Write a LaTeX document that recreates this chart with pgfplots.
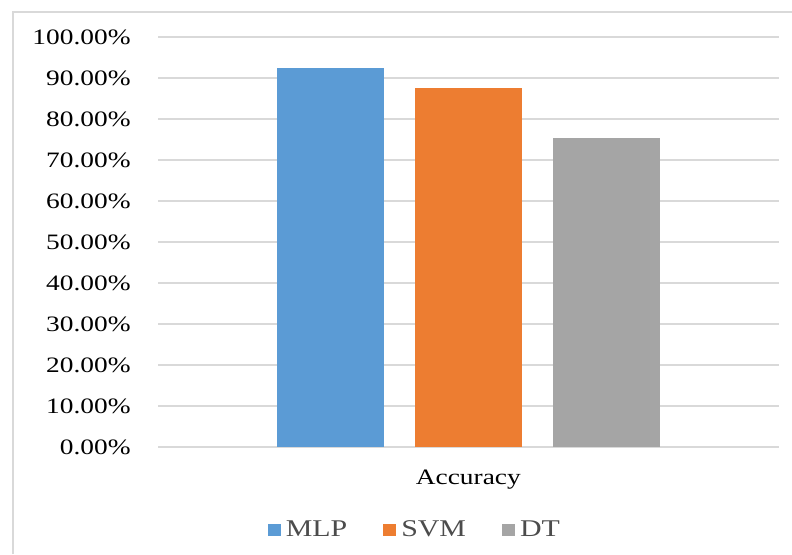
\documentclass[border=0pt]{standalone}
\usepackage{pgfplots}
\pgfplotsset{compat=1.18}
\usepackage{fontspec}
\setmainfont{Liberation Serif}
\definecolor{cMLP}{HTML}{5B9BD5}
\definecolor{cSVM}{HTML}{ED7D31}
\definecolor{cDT}{HTML}{A5A5A5}
\definecolor{gridc}{HTML}{D9D9D9}
\begin{document}
\begin{tikzpicture}
\path[use as bounding box] (0pt,0pt) rectangle (396pt,-277pt);
\draw[color=gridc, line width=0.75pt] (6.5pt,-277pt) -- (6.5pt,-6pt) -- (396pt,-6pt);
\begin{axis}[
  at={(79pt,-223.5pt)}, anchor=south west,
  scale only axis, width=310.5pt, height=205pt,
  xmin=158, xmax=779, ymin=0, ymax=100,
  axis line style={draw=none},
  major tick length=0pt,
  ytick={0,10,20,30,40,50,60,70,80,90,100},
  ymajorgrids, grid style={color=gridc, line width=0.75pt},
  xtick={468.3}, xticklabels={\scalebox{1.245}[1]{Accuracy}},
  yticklabel={\scalebox{1.245}[1]{\pgfmathprintnumber[fixed,fixed zerofill,precision=2,assume math mode=true]{\tick}\%}},
  tick label style={font=\fontsize{11}{13}\selectfont, text=black},
  yticklabel style={anchor=east, inner sep=0pt, xshift=-13.5pt},
  xticklabel style={anchor=north, inner sep=0pt, yshift=-11.5pt},
  legend style={draw=none, fill=none, at={(0.412,-0.2024)}, anchor=center,
    legend columns=3, font=\fontsize{12}{14}\selectfont, text=black!70,
    nodes={inner sep=0pt},
    /tikz/every odd column/.append style={column sep=2.5pt},
    /tikz/every even column/.append style={column sep=18pt}},
  legend image code/.code={\fill[#1] (0pt,-3pt) rectangle (6.5pt,3pt);},
]
\addplot[ybar, bar width=107, bar shift=0pt, fill=cMLP, draw=none] coordinates {(330.5,92.4)};
\addlegendentry{\scalebox{1.245}[1]{MLP}}
\addplot[ybar, bar width=107, bar shift=0pt, fill=cSVM, draw=none] coordinates {(468.3,87.6)};
\addlegendentry{\scalebox{1.245}[1]{SVM}}
\addplot[ybar, bar width=107, bar shift=0pt, fill=cDT, draw=none] coordinates {(606,75.3)};
\addlegendentry{\scalebox{1.245}[1]{DT}}
\end{axis}
\end{tikzpicture}
\end{document}
